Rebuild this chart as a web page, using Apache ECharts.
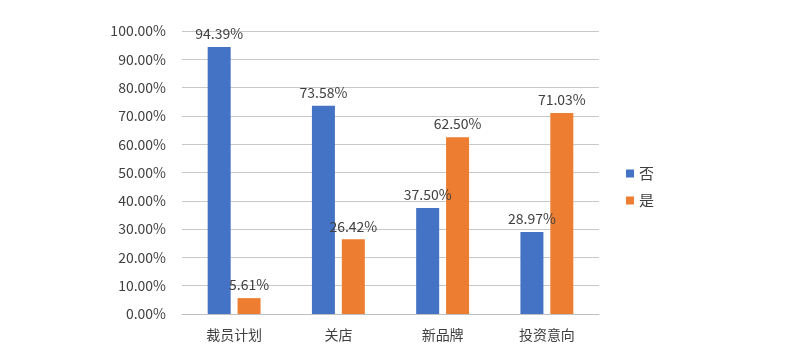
<!DOCTYPE html>
<html><head><meta charset="utf-8">
<script src="https://cdn.jsdelivr.net/npm/echarts@6/dist/echarts.min.js"></script>
<style>html,body{margin:0;padding:0;background:#fff}#c{width:800px;height:356px}</style>
</head><body><div id="c"></div>
<script>
const categories = ['裁员计划', '关店', '新品牌', '投资意向'];
const seriesNames = ['否', '是'];
const noValues = [94.39, 73.58, 37.50, 28.97];
const yesValues = [5.61, 26.42, 62.50, 71.03];
const colors = ['#4472C4', '#ED7D31'];
const font = '"Microsoft YaHei","Noto Sans CJK SC","Noto Sans",sans-serif';
const fmt = v => v.toFixed(2) + '%';
const chart = echarts.init(document.getElementById('c'));
chart.setOption({
  animation: false,
  textStyle: { fontFamily: font },
  grid: { left: 182, right: 201, top: 31, bottom: 42 },
  legend: {
    orient: 'vertical', left: 621, top: 161, itemWidth: 8, itemHeight: 8, itemGap: 12,
    icon: 'rect', textStyle: { fontSize: 15, color: '#404040', fontFamily: font },
    data: seriesNames
  },
  xAxis: {
    type: 'category', data: categories,
    axisLine: { lineStyle: { color: '#bfbfbf' } },
    axisTick: { show: false },
    axisLabel: { fontSize: 14, color: '#404040', margin: 14 }
  },
  yAxis: {
    type: 'value', min: 0, max: 100, interval: 10,
    axisLine: { show: false }, axisTick: { show: false },
    splitLine: { lineStyle: { color: '#c8c8c8' } },
    axisLabel: { fontSize: 14, color: '#404040', margin: 16, formatter: fmt }
  },
  series: [
    { name: seriesNames[0], type: 'bar', data: noValues, barWidth: 23, barGap: '30%',
      itemStyle: { color: colors[0] },
      label: { show: true, position: 'top', fontSize: 14, color: '#404040', distance: 6, formatter: p => fmt(p.value) } },
    { name: seriesNames[1], type: 'bar', data: yesValues, barWidth: 23,
      itemStyle: { color: colors[1] },
      label: { show: true, position: 'top', fontSize: 14, color: '#404040', distance: 6, formatter: p => fmt(p.value) } }
  ]
});
</script></body></html>
